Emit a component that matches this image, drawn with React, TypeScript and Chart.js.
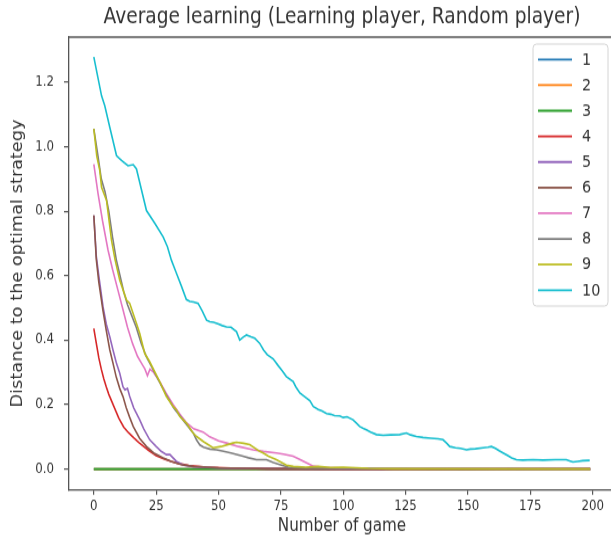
import { useEffect, useRef } from "react";
import { Chart, registerables } from "chart.js";

Chart.register(...registerables);

const chartTitle = "Average learning (Learning player, Random player)";
const xAxisTitle = "Number of game";
const yAxisTitle = "Distance to the optimal strategy";

const seriesLabels = ["1", "2", "3", "4", "5", "6", "7", "8", "9", "10"];
const seriesColors = [
  "#1f77b4", "#ff7f0e", "#2ca02c", "#d62728", "#9467bd",
  "#8c564b", "#e377c2", "#7f7f7f", "#bcbd22", "#17becf",
];

const xTicks = [0, 25, 50, 75, 100, 125, 150, 175, 200];
const yTicks = [0, 0.2, 0.4, 0.6, 0.8, 1.0, 1.2];

// [game, distance]
const series1: [number, number][] = [[0, 0], [199, 0]];
const series2: [number, number][] = [[0, 0], [199, 0]];
const series3: [number, number][] = [[0, 0], [199, 0]];
const series4: [number, number][] = [
  [0, 0.436], [1, 0.39], [2, 0.345], [3, 0.31], [4, 0.28], [5, 0.255], [6, 0.232], [8, 0.195],
  [10, 0.158], [12, 0.13], [14, 0.112], [16, 0.097], [18, 0.083], [20, 0.07], [22, 0.058],
  [25, 0.042], [28, 0.032], [31, 0.024], [34, 0.017], [38, 0.011], [45, 0.006], [55, 0.003],
  [70, 0.001], [100, 0], [199, 0],
];
const series5: [number, number][] = [
  [0, 0.787], [1, 0.66], [2, 0.6], [3.7, 0.503], [5, 0.45], [6.4, 0.41], [7.7, 0.369], [9, 0.33],
  [10.4, 0.297], [11.7, 0.255], [12.5, 0.246], [13.5, 0.25], [14.4, 0.225], [16, 0.19],
  [18.4, 0.153], [20, 0.125], [22.4, 0.091], [25, 0.07], [27, 0.055], [29.1, 0.045],
  [30.5, 0.045], [33.1, 0.024], [36, 0.012], [40, 0.007], [50, 0.003], [70, 0.001], [199, 0],
];
const series6: [number, number][] = [
  [0, 0.787], [1, 0.65], [2, 0.58], [3.7, 0.49], [5, 0.43], [6.4, 0.37], [7.7, 0.328], [9, 0.285],
  [10.4, 0.25], [11.7, 0.225], [13, 0.19], [14.4, 0.16], [15.8, 0.132], [18.4, 0.095],
  [21.1, 0.07], [24, 0.05], [27.8, 0.035], [31, 0.024], [35, 0.014], [40, 0.008], [50, 0.004],
  [70, 0.001], [199, 0],
];
const series7: [number, number][] = [
  [0, 0.946], [1.7, 0.854], [3.5, 0.77], [5.7, 0.679], [7.5, 0.62], [9.5, 0.56], [11.5, 0.5],
  [13.5, 0.44], [15.5, 0.39], [17.5, 0.35], [19, 0.33], [20.5, 0.31], [21.5, 0.29],
  [22.5, 0.31], [24, 0.3], [26.5, 0.27], [29, 0.235], [31.8, 0.2], [34.5, 0.17], [37, 0.145],
  [40, 0.125], [43.8, 0.115], [46.5, 0.1], [50, 0.088], [53.2, 0.081], [58, 0.07],
  [63.9, 0.06], [68, 0.055], [73.2, 0.05], [76, 0.046], [79.9, 0.04], [83, 0.028],
  [85.3, 0.019], [88, 0.009], [92, 0.005], [100, 0.003], [199, 0],
];
const series8: [number, number][] = [
  [0, 1.055], [1.5, 0.98], [3, 0.9], [4.5, 0.86], [6, 0.8], [7.5, 0.72], [9, 0.65],
  [10.5, 0.6], [12, 0.55], [13.5, 0.51], [15, 0.48], [17, 0.44], [19, 0.39], [21, 0.35],
  [23, 0.32], [26, 0.275], [29, 0.23], [32, 0.19], [35, 0.16], [38, 0.13], [40, 0.11],
  [41.2, 0.09], [42.5, 0.075], [44, 0.068], [46.5, 0.062], [49.2, 0.06], [52, 0.055],
  [55, 0.05], [59.8, 0.04], [62, 0.035], [65.2, 0.029], [69.2, 0.029], [72, 0.02],
  [74.5, 0.014], [78, 0.006], [85, 0.003], [100, 0.002], [199, 0],
];
const series9: [number, number][] = [
  [0, 1.055], [1.2, 0.97], [2.4, 0.926], [3.1, 0.874], [5.1, 0.833], [7.1, 0.709],
  [8.5, 0.65], [10.4, 0.586], [13.1, 0.524], [14.4, 0.514], [17.1, 0.452], [18.4, 0.421],
  [20.4, 0.359], [22.4, 0.333], [26.5, 0.27], [29.1, 0.225], [31.8, 0.194], [33.1, 0.184],
  [34.5, 0.163], [37.1, 0.143], [39.8, 0.112], [41.2, 0.101], [44, 0.085], [47.8, 0.066],
  [51, 0.07], [55.8, 0.081], [57.2, 0.083], [60, 0.08], [62.5, 0.076], [66.5, 0.055],
  [67.9, 0.05], [70, 0.04], [73.2, 0.029], [77.2, 0.012], [80, 0.008], [85, 0.006],
  [90, 0.008], [95, 0.005], [100, 0.006], [105, 0.004], [110, 0.002], [120, 0.001], [199, 0],
];
const series10: [number, number][] = [
  [0, 1.278], [1.5, 1.22], [3.1, 1.158], [4.4, 1.127], [6.4, 1.06], [9.1, 0.972],
  [11.1, 0.957], [13.7, 0.941], [15.8, 0.944], [17.1, 0.931], [19, 0.87], [21.1, 0.802],
  [24.5, 0.762], [27.8, 0.72], [29.5, 0.69], [31.1, 0.648], [33, 0.61],
  [35, 0.57], [37.1, 0.526], [38.5, 0.52], [40, 0.518], [41.8, 0.514], [43.5, 0.49],
  [45.2, 0.462], [46.5, 0.457], [48, 0.455], [50, 0.45], [51.5, 0.445], [53.2, 0.441],
  [55, 0.44], [57.2, 0.426], [58.5, 0.4], [60, 0.41], [61.2, 0.416], [63, 0.41],
  [64.5, 0.406], [66.5, 0.39], [68, 0.37], [69.5, 0.355], [71.9, 0.342], [74, 0.32],
  [75.5, 0.305], [77.2, 0.287], [79.9, 0.272], [81, 0.255], [82.6, 0.236], [84.5, 0.225],
  [86.6, 0.212], [88, 0.194], [90, 0.185], [91.5, 0.18], [93.3, 0.172], [95, 0.17],
  [96.5, 0.166], [98.6, 0.165], [100, 0.16], [101.5, 0.162], [103.9, 0.153], [105, 0.145],
  [106.6, 0.132], [108, 0.126], [109.3, 0.122], [111, 0.115], [113.3, 0.107], [116, 0.105],
  [119, 0.106], [122.6, 0.107], [125.3, 0.112], [127, 0.106], [129.3, 0.101], [132, 0.098],
  [135, 0.096], [138, 0.094], [140, 0.091], [141.5, 0.08], [142.7, 0.07], [145, 0.066],
  [147, 0.064], [149.4, 0.06], [151, 0.062], [153, 0.063], [156.1, 0.066], [158, 0.068],
  [159.4, 0.07], [161, 0.064], [162.5, 0.057], [164.1, 0.05], [166, 0.042], [167.5, 0.035],
  [169.4, 0.029], [172, 0.028], [176.1, 0.029], [180, 0.028], [185, 0.029], [189.4, 0.029],
  [191, 0.025], [192.1, 0.022], [194, 0.024], [196, 0.026], [198.8, 0.027],
];

const allSeries = [
  series1, series2, series3, series4, series5,
  series6, series7, series8, series9, series10,
];

// The reference picture is stretched vertically; draw at a smaller
// internal height and let CSS stretch it to the page height.
const CSS_W = 615;
const CSS_H = 546;
const STRETCH = 1.16;
const CANVAS_H = Math.round(CSS_H / STRETCH);

const FONT = "'DejaVu Sans', sans-serif";
const TEXT = "#333";
const SPINE = "#555";

const decorPlugin = {
  id: "decor",
  afterDraw(chart: any) {
    const { ctx, chartArea } = chart;
    const { left, right, top } = chartArea;
    ctx.save();
    ctx.strokeStyle = SPINE;
    ctx.lineWidth = 1.3;
    ctx.beginPath();
    ctx.moveTo(left, top);
    ctx.lineTo(right, top);
    ctx.lineTo(right, chartArea.bottom);
    ctx.stroke();
    // title
    ctx.fillStyle = TEXT;
    ctx.font = `18.6px ${FONT}`;
    ctx.textAlign = "center";
    ctx.textBaseline = "middle";
    ctx.fillText(chartTitle, (left + right) / 2, 15.5);
    // legend
    const bx = 533, by = 38, bw = 75, bh = 226, r = 3.5;
    ctx.beginPath();
    ctx.moveTo(bx + r, by);
    ctx.lineTo(bx + bw - r, by);
    ctx.quadraticCurveTo(bx + bw, by, bx + bw, by + r);
    ctx.lineTo(bx + bw, by + bh - r);
    ctx.quadraticCurveTo(bx + bw, by + bh, bx + bw - r, by + bh);
    ctx.lineTo(bx + r, by + bh);
    ctx.quadraticCurveTo(bx, by + bh, bx, by + bh - r);
    ctx.lineTo(bx, by + r);
    ctx.quadraticCurveTo(bx, by, bx + r, by);
    ctx.closePath();
    ctx.fillStyle = "rgba(255,255,255,0.85)";
    ctx.fill();
    ctx.strokeStyle = "#d4d4d4";
    ctx.lineWidth = 1;
    ctx.stroke();
    ctx.font = `14.4px ${FONT}`;
    ctx.textAlign = "left";
    ctx.textBaseline = "middle";
    chart.data.datasets.forEach((ds: any, i: number) => {
      const y = 51.3 + i * 22.11;
      ctx.strokeStyle = ds.borderColor;
      ctx.lineWidth = 1.8;
      ctx.beginPath();
      ctx.moveTo(538, y);
      ctx.lineTo(572, y);
      ctx.stroke();
      ctx.fillStyle = TEXT;
      ctx.fillText(ds.label, 582, y + 0.5);
    });
    ctx.restore();
  },
};

export default function App() {
  const ref = useRef<HTMLCanvasElement>(null);

  useEffect(() => {
    if (!ref.current) return;
    const datasets = allSeries.map((pts, i) => ({
      label: seriesLabels[i],
      data: pts.map(([x, y]) => ({ x, y })),
      borderColor: seriesColors[i],
      backgroundColor: seriesColors[i],
      borderWidth: 1.6,
      pointRadius: 0,
      tension: 0,
      fill: false,
      order: seriesLabels.length - i,
    }));
    const chart = new Chart(ref.current, {
      type: "line",
      data: { datasets },
      options: {
        animation: false,
        responsive: false,
        devicePixelRatio: 1,
        layout: { padding: { top: 32, right: 0, bottom: 0, left: 0 } },
        plugins: {
          legend: { display: false },
          title: { display: false },
          tooltip: { enabled: false },
        },
        scales: {
          x: {
            type: "linear",
            min: -9.95,
            max: 208.95,
            afterFit: (s: any) => { s.height = 48.6; },
            afterBuildTicks: (s: any) => { s.ticks = xTicks.map((v) => ({ value: v })); },
            grid: { drawOnChartArea: false, drawTicks: true, tickLength: 4.3, color: SPINE, lineWidth: 1.2 },
            border: { display: true, color: SPINE, width: 1.3 },
            ticks: {
              color: TEXT, font: { family: FONT, size: 11.8 }, padding: 3, maxRotation: 0,
              callback: (v: any) => String(v),
            },
            title: {
              display: true, text: xAxisTitle, color: TEXT,
              font: { family: FONT, size: 15.2 }, padding: { top: 0, bottom: 7.6 },
            },
          },
          y: {
            type: "linear",
            min: -0.0639,
            max: 1.3398,
            afterFit: (s: any) => { s.width = 69; },
            afterBuildTicks: (s: any) => { s.ticks = yTicks.map((v) => ({ value: v })); },
            grid: { drawOnChartArea: false, drawTicks: true, tickLength: 5, color: SPINE, lineWidth: 1.2 },
            border: { display: true, color: SPINE, width: 1.3 },
            ticks: {
              color: TEXT, font: { family: FONT, size: 11.8 }, padding: 10,
              callback: (v: any) => Number(v).toFixed(1),
            },
            title: {
              display: true, text: yAxisTitle, color: TEXT,
              font: { family: FONT, size: 15.3 }, padding: { top: 9, bottom: 0 },
            },
          },
        },
      },
      plugins: [decorPlugin],
    });
    return () => chart.destroy();
  }, []);

  return (
    <div style={{ position: "absolute", left: 0, top: 0, width: 611, height: CSS_H, overflow: "hidden", background: "#fff" }}>
      <canvas
        ref={ref}
        width={CSS_W}
        height={CANVAS_H}
        style={{ display: "block", width: CSS_W, height: CSS_H }}
      />
    </div>
  );
}
